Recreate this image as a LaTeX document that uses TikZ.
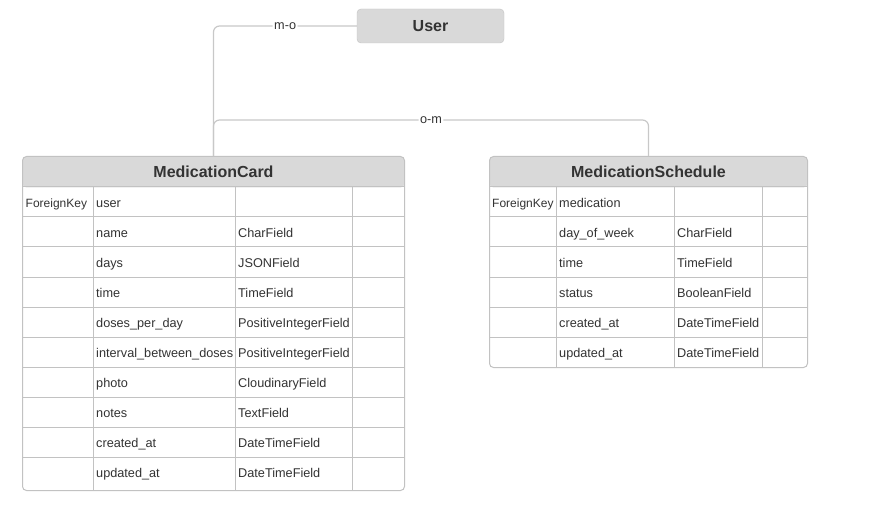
\documentclass[tikz,border=0pt]{standalone}
\usepackage{fontspec}
\setmainfont{Liberation Sans}
\usetikzlibrary{positioning,calc}
\definecolor{headgray}{HTML}{D9D9D9}
\definecolor{linegray}{HTML}{C2C2C2}
\definecolor{relgray}{HTML}{C8C8C8}
\definecolor{textgray}{HTML}{333333}

\begin{document}
\begin{tikzpicture}[x=1pt, y=-1pt, text=textgray,
    font=\fontsize{12.7}{14}\selectfont,
    model/.style={draw=linegray, fill=headgray, rounded corners=4pt, inner sep=0pt,
      minimum width=147pt, minimum height=34pt, font=\bfseries\fontsize{16}{18}\selectfont},
    table/.style={draw=linegray, fill=white, rounded corners=4pt, inner sep=0pt,
      anchor=north west, line width=1pt,
      path picture={\fill[headgray] (path picture bounding box.north west)
        rectangle ([yshift=-31pt]path picture bounding box.north east);}},
    title/.style={font=\bfseries\fontsize{16}{18}\selectfont, inner sep=0pt},
    grid/.style={draw=linegray, line width=1pt},
    cell/.style={anchor=west, inner sep=0pt, text height=9pt, text depth=3pt},
    keycell/.style={cell, font=\fontsize{12}{14}\selectfont},
    rel/.style={draw=relgray, line width=1.2pt, rounded corners=6pt},
    card/.style={fill=white, inner sep=1.5pt, font=\fontsize{12.7}{14}\selectfont}]
  \useasboundingbox (0,0) rectangle (881,513);

  \node[model] (user) at (430.5,26) {User};%

  % MedicationCard
  \node[table, minimum width=382pt, minimum height=334pt] (card) at (22,156) {};%
  \node[title] (cardtitle) at ([yshift=-16pt]card.north) {MedicationCard};%
  \foreach \key/\field/\type [count=\i from 0] in {ForeignKey/user/{},
      {}/name/CharField, {}/days/JSONField, {}/time/TimeField,
      {}/doses\_per\_day/PositiveIntegerField,
      {}/interval\_between\_doses/PositiveIntegerField,
      {}/photo/CloudinaryField, {}/notes/TextField,
      {}/created\_at/DateTimeField, {}/updated\_at/DateTimeField} {
    \draw[grid] (22,{187+30*\i}) -- (404,{187+30*\i});
    \node[keycell] (cardkey\i) at (25.5,{204.5+30*\i}) {\key};
    \node[cell] (cardfield\i) at (96,{204.5+30*\i}) {\field};
    \node[cell] (cardtype\i) at (238,{204.5+30*\i}) {\type};
  }
  \foreach \x in {93,235,352}
    \draw[grid] (\x,187) -- (\x,490);

  % MedicationSchedule
  \node[table, minimum width=318pt, minimum height=211pt] (sched) at (489,156) {};%
  \node[title] (schedtitle) at ([yshift=-16pt]sched.north) {MedicationSchedule};%
  \foreach \key/\field/\type [count=\i from 0] in {ForeignKey/medication/{},
      {}/day\_of\_week/CharField, {}/time/TimeField, {}/status/BooleanField,
      {}/created\_at/DateTimeField, {}/updated\_at/DateTimeField} {
    \draw[grid] (489,{187+30*\i}) -- (807,{187+30*\i});
    \node[keycell] (schedkey\i) at (492,{204.5+30*\i}) {\key};
    \node[cell] (schedfield\i) at (559,{204.5+30*\i}) {\field};
    \node[cell] (schedtype\i) at (677,{204.5+30*\i}) {\type};
  }
  \foreach \x in {556,674,762}
    \draw[grid] (\x,187) -- (\x,367);

  % relations
  \path[rel] (user.west) -| node[card, pos=0.25] {m-o} (card.north);
  \path[rel] (card.north) -- ++(0,-36) -| node[card, pos=0.25] {o-m} (sched.north);
\end{tikzpicture}
\end{document}
